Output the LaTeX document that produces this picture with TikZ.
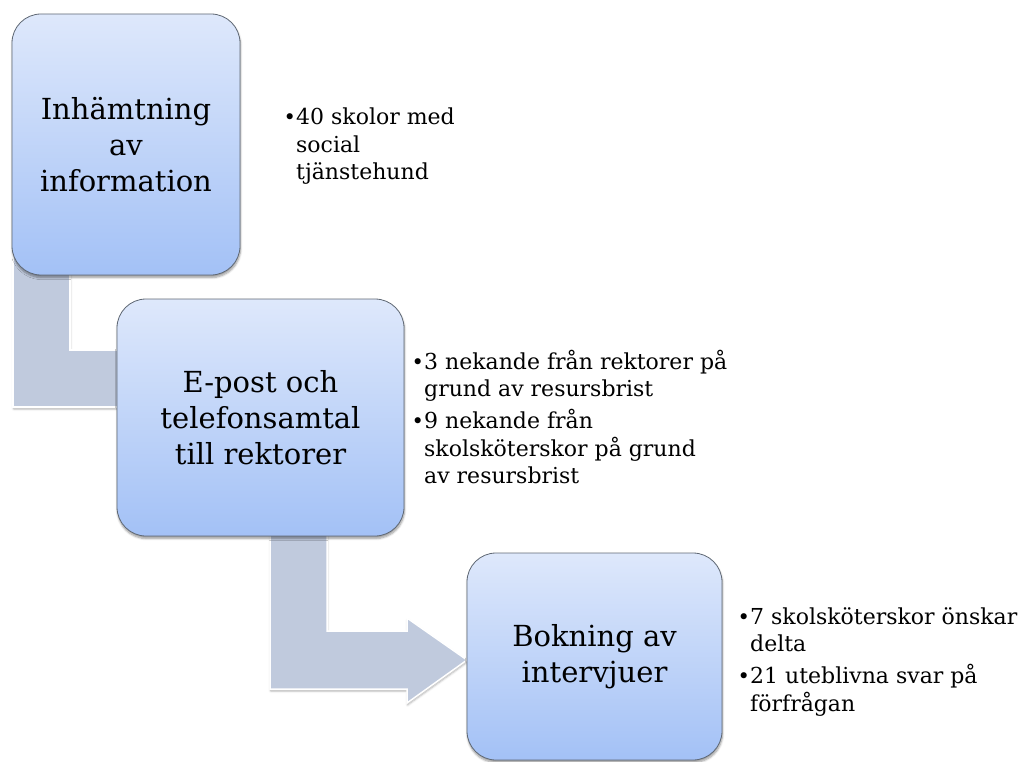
\documentclass[tikz,border=0pt]{standalone}
\usepackage{fontspec}
\setmainfont{DejaVu Serif}
\usetikzlibrary{shadows.blur}
\definecolor{boxtop}{HTML}{DEE8FB}
\definecolor{boxbot}{HTML}{A3C1F6}
\definecolor{boxline}{HTML}{5F6874}
\definecolor{arrowfill}{HTML}{C0CADD}
\pgfdeclarelayer{bg}
\pgfsetlayers{bg,main}
\tikzset{
  stepbox/.style={rounded corners=29pt, draw=boxline, line width=0.8pt,
    top color=boxtop, bottom color=boxbot, align=center,
    font=\fontsize{29}{36}\selectfont, inner sep=0pt,
    blur shadow={shadow xshift=0.5pt, shadow yshift=-2.5pt, shadow blur steps=6, shadow opacity=40}},
  bendarrow/.style={fill=arrowfill, draw=white, line width=1.5pt, line join=miter,
    blur shadow={shadow xshift=0.5pt, shadow yshift=-2pt, shadow blur steps=5, shadow opacity=30}},
  note/.style={anchor=north west, inner sep=0pt, align=left,
    font=\fontsize{22}{27.5}\selectfont}
}
\newcommand\bul{\makebox[10pt][l]{\hspace*{-2.5pt}\fontsize{21}{21}\selectfont\char"2022}}
\newcommand\ind{\hspace*{10pt}}
\begin{document}
\begin{tikzpicture}[x=1pt,y=-1pt]
\useasboundingbox (0,0) rectangle (1027,762);
% step boxes
\node[stepbox, minimum width=228pt, minimum height=261pt] (b1) at (126,144.5) {Inhämtning\\av\\information};
\node[stepbox, minimum width=287pt, minimum height=237pt] (b2) at (260.5,417.5) {E-post och\\telefonsamtal\\till rektorer};
\node[stepbox, minimum width=255pt, minimum height=207pt] (b3) at (594.5,656.5) {Bokning av\\intervjuer};
% bent arrows
\coordinate (a1s) at (13,250);
\coordinate (a2tip) at (467,660);
\begin{pgfonlayer}{bg}
\draw[bendarrow] (a1s) -- (70,250) -- (70,350) -- (b2.west |- 0,350) -- ++(25,0) -- ++(0,57) -- (13,407) -- cycle;
\draw[bendarrow] (270,500) -- (327,500) -- (327,631) -- (407,631) -- (407,618) -- (a2tip) -- (407,703) -- (407,689) -- (270,689) -- cycle;
\end{pgfonlayer}
% notes
\node[note] (t1) at (286,105.5) {\strut\bul 40 skolor med\\\ind social\\\ind tjänstehund};
\node[note] (t2) at (414,349.5) {\strut\bul 3 nekande från rektorer på\\\ind grund av resursbrist\\[4.5pt]\bul 9 nekande från\\\ind skolsköterskor på grund\\\ind av resursbrist};
\node[note] (t3) at (740,605) {\strut\bul 7 skolsköterskor önskar\\\ind delta\\[4.5pt]\bul 21 uteblivna svar på\\\ind förfrågan};
\end{tikzpicture}
\end{document}
